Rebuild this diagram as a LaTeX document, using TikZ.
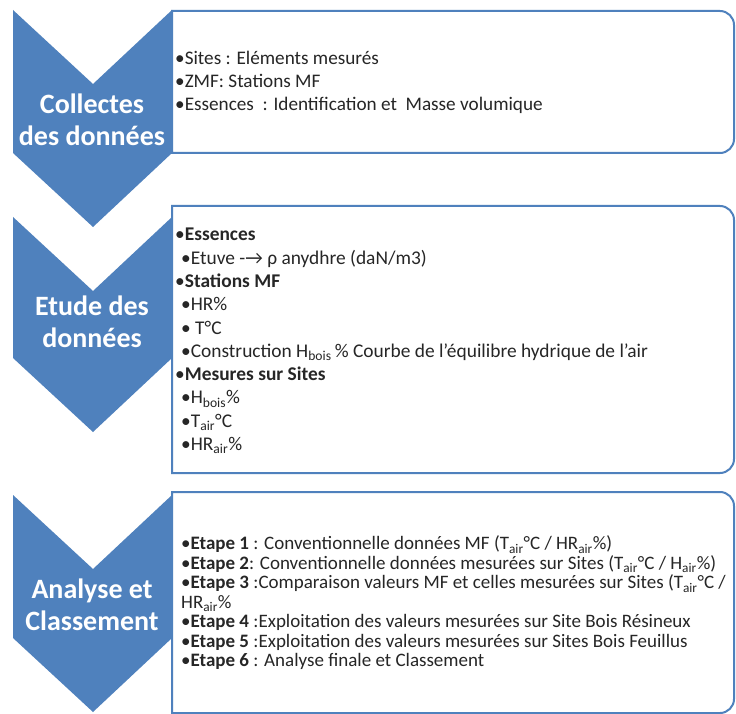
\documentclass[tikz,border=0pt]{standalone}
\usepackage{fontspec}
\setmainfont{Carlito}
\definecolor{accent}{HTML}{4F81BD}
\tikzset{
  chev/.style={fill=accent, draw=none},
  boxline/.style={draw=accent, line width=2pt, fill=white},
  chevlabel/.style={text=white, font=\fontsize{28}{32}\selectfont\bfseries, align=center, inner sep=0pt},
  itemtext/.style={anchor=west, align=left, inner sep=0pt, text=black!85},
}
\newcommand{\bul}{\textbullet}
\begin{document}
\begin{tikzpicture}[x=1pt,y=-1pt]
\useasboundingbox (0,0) rectangle (736,714);
\fill[white] (0,0) rectangle (736,714);
% chevrons
\fill[chev] (13,10) -- (93,84) -- (172,10) -- (172,153) -- (93,227) -- (13,153) -- cycle;
\fill[chev] (13,217) -- (93,291) -- (172,217) -- (172,358) -- (93,432) -- (13,358) -- cycle;
\fill[chev] (13,495) -- (93,569) -- (172,495) -- (172,638) -- (93,712) -- (13,638) -- cycle;
% boxes
\draw[boxline] (172,11) -- (720,11) arc[start angle=-90,end angle=0,radius=14] -- (734,139) arc[start angle=0,end angle=90,radius=14] -- (172,153) -- cycle;
\draw[boxline] (172,206) -- (720,206) arc[start angle=-90,end angle=0,radius=14] -- (734,459) arc[start angle=0,end angle=90,radius=14] -- (172,473) -- cycle;
\draw[boxline] (172,492) -- (720,492) arc[start angle=-90,end angle=0,radius=14] -- (734,699) arc[start angle=0,end angle=90,radius=14] -- (172,713) -- cycle;
% chevron labels
\node[chevlabel] (c1) at (92,120) {Collectes\\des données};
\node[chevlabel] (c2) at (92,322) {Etude des\\données};
\node[chevlabel] (c3) at (92,605) {Analyse et\\Classement};
% box texts
\node[itemtext, font=\fontsize{19.2}{23}\selectfont] (t1) at (175,82) {%
\bul Sites : Eléments mesurés\\
\bul ZMF: Stations MF\\
\bul Essences~ : Identification et~ Masse volumique};
\node[itemtext, font=\fontsize{19.4}{23.3}\selectfont] (t2) at (175,341) {%
\bul\textbf{Essences}\\
\hspace{6pt}\bul Etuve -→ ρ anydhre (daN/m3)\\
\bul\textbf{Stations MF}\\
\hspace{6pt}\bul HR\%\\
\hspace{6pt}\bul\ T°C\\
\hspace{6pt}\bul Construction H\textsubscript{bois}\,\% Courbe de l’équilibre hydrique de l’air\\
\bul\textbf{Mesures sur Sites}\\
\hspace{6pt}\bul H\textsubscript{bois}\%\\
\hspace{6pt}\bul T\textsubscript{air}°C\\
\hspace{6pt}\bul HR\textsubscript{air}\%};
\node[itemtext, font=\fontsize{19}{19.5}\selectfont] (t3) at (181,603) {%
\bul\textbf{Etape 1} : Conventionnelle données MF (T\textsubscript{air}°C / HR\textsubscript{air}\%)\\
\bul\textbf{Etape 2}: Conventionnelle données mesurées sur Sites (T\textsubscript{air}°C / H\textsubscript{air}\%)\\
\bul\textbf{Etape 3} :Comparaison valeurs MF et celles mesurées sur Sites (T\textsubscript{air}°C /\\
HR\textsubscript{air}\%\\
\bul\textbf{Etape 4} :Exploitation des valeurs mesurées sur Site Bois Résineux\\
\bul\textbf{Etape 5} :Exploitation des valeurs mesurées sur Sites Bois Feuillus\\
\bul\textbf{Etape 6} : Analyse finale et Classement};
\end{tikzpicture}
\end{document}
